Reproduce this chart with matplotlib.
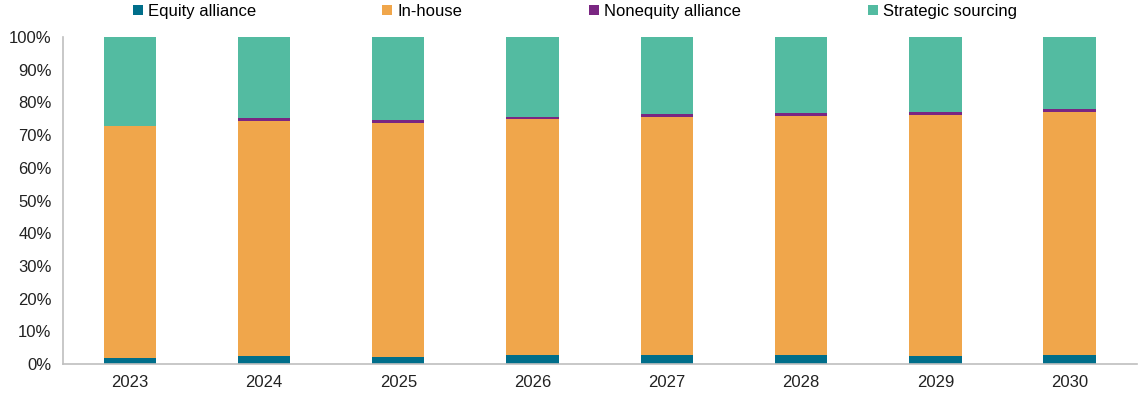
import matplotlib
matplotlib.use("Agg")
import matplotlib.pyplot as plt
import numpy as np
from matplotlib.ticker import PercentFormatter

plt.rcParams['font.family'] = ['Liberation Sans', 'DejaVu Sans']

anos = ['2023', '2024', '2025', '2026', '2027', '2028', '2029', '2030']
equity = [1.7, 2.4, 2.1, 2.8, 2.7, 2.7, 2.6, 2.7]
inhouse = [71.1, 71.9, 71.7, 72.1, 72.8, 73.3, 73.7, 74.5]
nonequity = [0.1, 0.8, 0.7, 0.8, 0.9, 0.9, 0.7, 0.8]
strategic = [27.1, 24.9, 25.5, 24.3, 23.6, 23.1, 23.0, 22.0]

series = [
    ('Equity alliance', equity, '#006E8A'),
    ('In-house', inhouse, '#F0A64B'),
    ('Nonequity alliance', nonequity, '#7A2682'),
    ('Strategic sourcing', strategic, '#53BBA1'),
]

fig = plt.figure(figsize=(11.39, 3.94), dpi=100)
ax = fig.add_axes([0.055, 0.076, 0.943, 0.830])

x = np.arange(len(anos))
base = np.zeros(len(anos))
for nome, vals, cor in series:
    ax.bar(x, vals, bottom=base, width=0.39, color=cor, label=nome, linewidth=0)
    base += np.array(vals)

ax.set_xlim(-0.5, len(anos) - 0.5)
ax.set_ylim(0, 100)
ax.set_yticks(np.arange(0, 101, 10))
ax.yaxis.set_major_formatter(PercentFormatter(decimals=0))
ax.set_xticks(x)
ax.set_xticklabels(anos)
ax.tick_params(axis='both', labelsize=12, length=0, colors='#222222')
ax.tick_params(axis='x', pad=8)
ax.tick_params(axis='y', pad=8)

for s in ['top', 'right']:
    ax.spines[s].set_visible(False)
for s in ['left', 'bottom']:
    ax.spines[s].set_color('#BFBFBF')
    ax.spines[s].set_linewidth(1.2)

leg = ax.legend(loc='lower left', bbox_to_anchor=(0.059, 1.035), ncol=4,
                frameon=False, fontsize=12, handlelength=0.6, handleheight=0.6,
                handletextpad=0.3, columnspacing=7.6, borderaxespad=0)

fig.savefig('out.png', dpi=100)
